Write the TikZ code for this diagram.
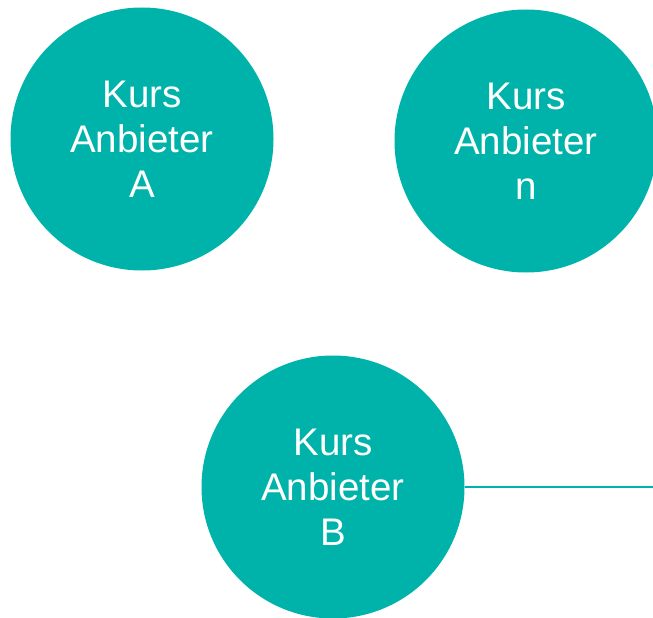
\documentclass[tikz,border=0pt]{standalone}
\usepackage{fontspec}
\setmainfont{Liberation Sans}
\definecolor{teal1}{HTML}{00B3AA}
\begin{document}
\begin{tikzpicture}[x=1pt,y=-1pt,
  anb/.style={circle,fill=teal1,draw=none,minimum size=263pt,inner sep=0pt,
    text=white,align=center,font=\fontsize{38.5}{45}\selectfont},
  conn/.style={draw=teal1,line width=2pt}]
\useasboundingbox (0,0) rectangle (653,618);
\node[anb] (A) at (142,139) {Kurs\\Anbieter\\A};
\node[anb] (N) at (526,141) {Kurs\\Anbieter\\n};
\node[anb] (B) at (333,487) {Kurs\\Anbieter\\B};
\coordinate (E) at (653,487);
\draw[conn] (B.east) -- (E);
\end{tikzpicture}
\end{document}
